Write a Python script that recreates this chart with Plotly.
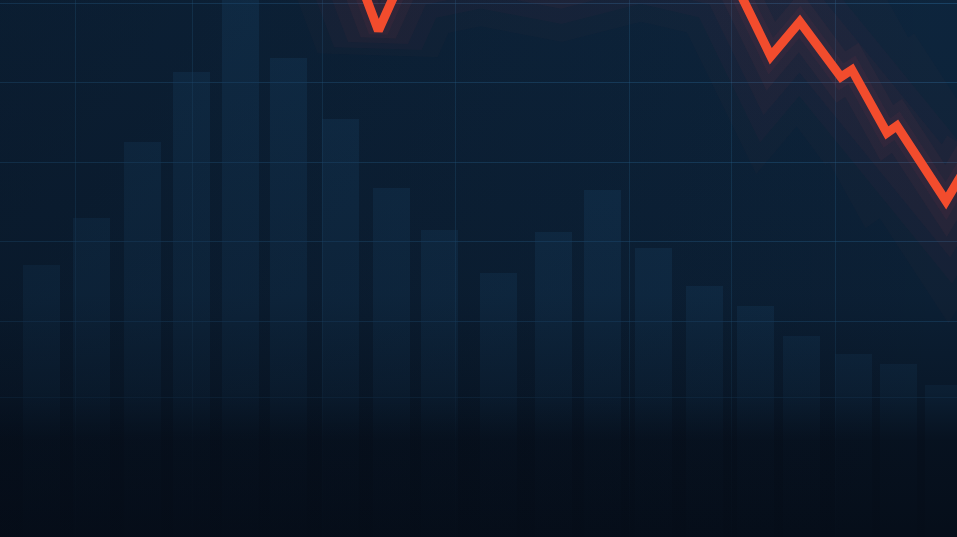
import plotly.graph_objects as go

# ---- data ----
bar_periods = [0.0, 1.0, 2.02, 3.0, 3.98, 4.95, 5.99, 7.01, 7.97, 9.13,
               10.24, 11.21, 12.24, 13.26, 14.27, 15.19, 16.24, 17.14, 18.04]
bar_values = [34.0, 39.9, 49.4, 58.1, 70.0, 59.9, 52.25, 43.6, 38.4, 33.0,
              38.1, 43.4, 36.1, 31.4, 28.9, 25.1, 22.9, 21.6, 19.0]

line_x = [6.33, 6.74, 7.23, 8.77, 10.37, 11.97, 13.80, 14.58, 15.16,
          15.98, 16.20, 16.90, 17.10, 18.08, 18.66]
line_y = [70.1, 63.3, 70.1, 72.1, 70.2, 72.75, 70.1, 60.1, 64.4,
          57.5, 58.4, 50.5, 51.4, 42.0, 48.1]

x_grid = [0.68, 3.02, 5.63, 8.29, 11.75, 13.80, 15.88]
y_grid = [17.4, 26.9, 36.9, 46.8, 56.8, 66.7]

x_range = [-0.82, 18.30]
y_range = [0.0, 67.125]

fig = go.Figure()

# translucent bars
fig.add_trace(go.Bar(
    x=bar_periods, y=bar_values, width=0.74,
    marker=dict(color="rgba(32,86,132,0.30)", line=dict(width=0)),
    hoverinfo="skip",
))

# vertical darkening overlay (fades bars and grid toward the bottom)
rx = [x_range[0], x_range[1], x_range[1], x_range[0], x_range[0]]
ry = [y_range[0], y_range[0], y_range[1], y_range[1], y_range[0]]
fig.add_trace(go.Scatter(
    x=rx, y=ry, mode="none", fill="toself",
    fillgradient=dict(type="vertical",
                      colorscale=[[0, "rgba(5,12,23,0.96)"],
                                  [0.18, "rgba(5,12,23,0.86)"],
                                  [0.27, "rgba(5,12,23,0.55)"],
                                  [0.45, "rgba(5,12,23,0.28)"],
                                  [1, "rgba(5,12,23,0.08)"]],
                      start=y_range[0], stop=y_range[1]),
    hoverinfo="skip", showlegend=False,
))
# horizontal darkening overlay (left side slightly darker)
fig.add_trace(go.Scatter(
    x=rx, y=ry, mode="none", fill="toself",
    fillgradient=dict(type="horizontal",
                      colorscale=[[0, "rgba(5,12,23,0.30)"],
                                  [1, "rgba(5,12,23,0.0)"]],
                      start=x_range[0], stop=x_range[1]),
    hoverinfo="skip", showlegend=False,
))

# glow around the line
for w, a in [(130, 0.022), (95, 0.03), (65, 0.04), (38, 0.05), (20, 0.06)]:
    fig.add_trace(go.Scatter(
        x=line_x, y=line_y, mode="lines",
        line=dict(color=f"rgba(215,70,80,{a})", width=w),
        hoverinfo="skip", showlegend=False,
    ))

# main line
fig.add_trace(go.Scatter(
    x=line_x, y=line_y, mode="lines",
    line=dict(color="#f24c2d", width=9),
    hoverinfo="skip", showlegend=False,
))

fig.update_layout(
    width=957, height=537,
    margin=dict(l=0, r=0, t=0, b=0),
    paper_bgcolor="#0b1d31",
    plot_bgcolor="#0e2740",
    showlegend=False,
    hovermode=False,
    bargap=0,
    xaxis=dict(range=x_range, tickvals=x_grid, showticklabels=False,
               showgrid=True, gridcolor="rgba(45,115,165,0.30)", gridwidth=1,
               zeroline=False, showline=False, fixedrange=True),
    yaxis=dict(range=y_range, tickvals=y_grid, showticklabels=False,
               showgrid=True, gridcolor="rgba(45,115,165,0.42)", gridwidth=1,
               zeroline=False, showline=False, fixedrange=True),
)

fig.write_html("out.html", config={"displayModeBar": False},
               post_script="document.body.style.margin='0';document.body.style.overflow='hidden';")
